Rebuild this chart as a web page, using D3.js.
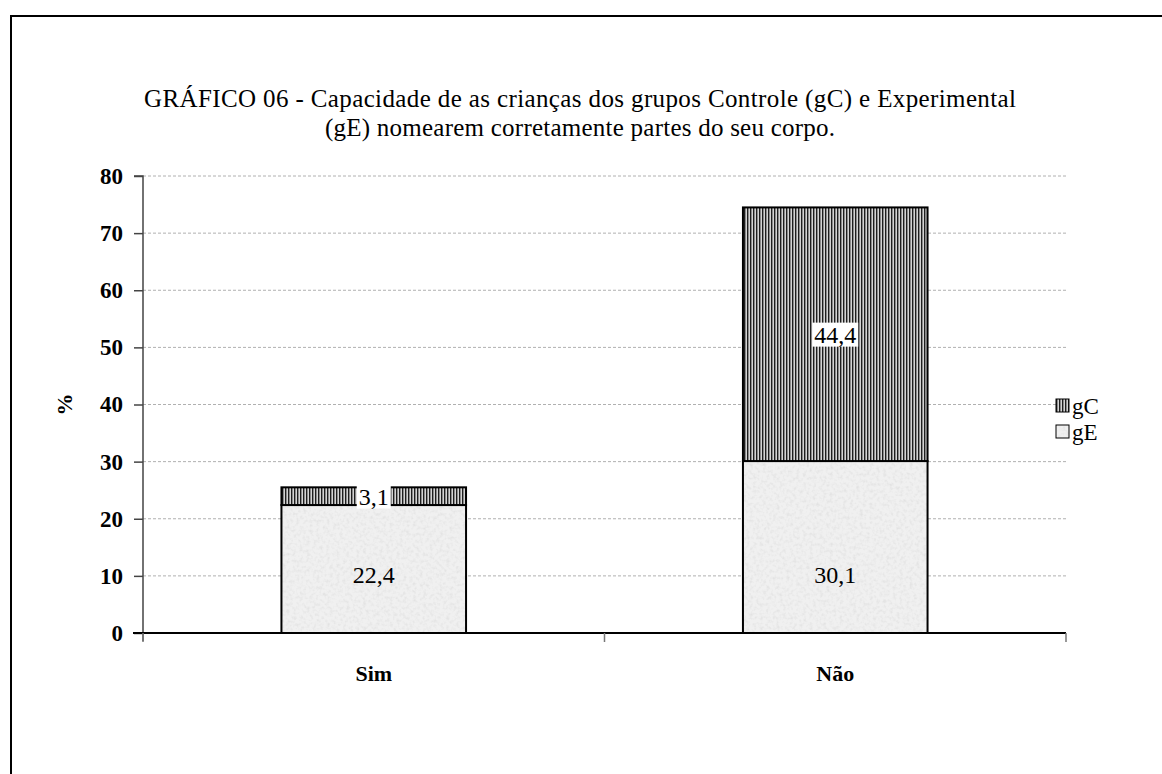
<!DOCTYPE html>
<html>
<head>
<meta charset="utf-8">
<script src="https://cdn.jsdelivr.net/npm/d3@7/dist/d3.min.js"></script>
<style>
  html, body { margin: 0; padding: 0; background: #fff; }
  svg { display: block; }
  svg text { font-family: "Liberation Serif", "DejaVu Serif", serif; }
</style>
</head>
<body>
<svg id="chart" width="1162" height="774"></svg>
<script>
const categories = ["Sim", "Não"];
const seriesNames = ["gE", "gC"];
const gE = [22.4, 30.1];
const gC = [3.1, 44.4];
const yTicks = [0, 10, 20, 30, 40, 50, 60, 70, 80];
const gELabels = ["22,4", "30,1"];
const gCLabels = ["3,1", "44,4"];
const titleLines = [
  "GRÁFICO 06 - Capacidade de as crianças dos grupos Controle (gC) e Experimental",
  "(gE) nomearem corretamente partes do seu corpo."
];
const yLabel = "%";

(function () {
const svg = d3.select("#chart");
const W = 1162, H = 774;
const pLeft = 143, pRight = 1066, pTop = 176, pBottom = 633;
const FF = "Liberation Serif";

svg.append("path")
  .attr("d", `M11,${H + 5} L11,16 L${W + 5},16`)
  .attr("fill", "none").attr("stroke", "#000").attr("stroke-width", 2);

const defs = svg.append("defs");
const pv = defs.append("pattern").attr("id", "vstripe")
  .attr("patternUnits", "userSpaceOnUse").attr("width", 3).attr("height", 3);
pv.append("rect").attr("width", 3).attr("height", 3).attr("fill", "#d4d4d4");
pv.append("rect").attr("width", 1.4).attr("height", 3).attr("fill", "#1e1e1e");

const grainFilter = defs.append("filter").attr("id", "noise")
  .attr("x", 0).attr("y", 0).attr("width", "100%").attr("height", "100%");
grainFilter.append("feTurbulence").attr("type", "fractalNoise")
  .attr("baseFrequency", 0.3).attr("numOctaves", 2).attr("seed", 3).attr("result", "t");
grainFilter.append("feColorMatrix").attr("in", "t").attr("type", "matrix")
  .attr("values", "0 0 0 0 0.6  0 0 0 0 0.6  0 0 0 0 0.6  0 0 0 -0.9 0.5")
  .attr("result", "c");
grainFilter.append("feComposite").attr("in", "c").attr("in2", "SourceGraphic").attr("operator", "in").attr("result", "n");
const fm = grainFilter.append("feMerge");
fm.append("feMergeNode").attr("in", "SourceGraphic");
fm.append("feMergeNode").attr("in", "n");

const x = d3.scaleBand().domain(categories).range([pLeft, pRight])
  .paddingInner(0.6).paddingOuter(0.3);
const y = d3.scaleLinear().domain([0, 80]).range([pBottom, pTop]);

svg.append("g").selectAll("line").data(yTicks.filter(d => d > 0)).join("line")
  .attr("x1", pLeft).attr("x2", pRight)
  .attr("y1", d => y(d)).attr("y2", d => y(d))
  .attr("stroke", "#b0b0b0").attr("stroke-width", 1).attr("stroke-dasharray", "3,2");

const rows = categories.map((c, i) => ({ cat: c, gE: gE[i], gC: gC[i] }));
const stack = d3.stack().keys(seriesNames)(rows);
const fills = { gE: "#f0f0f0", gC: "url(#vstripe)" };

const barG = svg.append("g");
stack.forEach(layer => {
  const g = barG.append("g");
  g.selectAll("rect.fill").data(layer).join("rect").attr("class", "fill")
    .attr("x", d => x(d.data.cat))
    .attr("width", x.bandwidth())
    .attr("y", d => y(d[1]))
    .attr("height", d => y(d[0]) - y(d[1]))
    .attr("fill", fills[layer.key])
    .attr("filter", layer.key === "gE" ? "url(#noise)" : null);
  g.selectAll("rect.edge").data(layer).join("rect").attr("class", "edge")
    .attr("x", d => x(d.data.cat))
    .attr("width", x.bandwidth())
    .attr("y", d => y(d[1]))
    .attr("height", d => y(d[0]) - y(d[1]))
    .attr("fill", "none")
    .attr("stroke", "#000").attr("stroke-width", 2);
});

const yAxis = d3.axisLeft(y).tickValues(yTicks).tickSize(9).tickPadding(11).tickFormat(d3.format("d"));
const ya = svg.append("g").attr("transform", `translate(${pLeft},0)`).call(yAxis);
ya.select(".domain").attr("stroke", "#444").attr("stroke-width", 1.5).attr("d", `M-9,${pTop}H0V${pBottom + 8}`);
ya.selectAll(".tick line").attr("stroke", "#444").attr("stroke-width", 1.5);
ya.selectAll(".tick text").attr("font-size", 23).attr("font-weight", "bold")
  .attr("font-family", FF).attr("fill", "#000");

svg.append("line").attr("x1", pLeft - 10).attr("x2", pRight).attr("y1", pBottom).attr("y2", pBottom)
  .attr("stroke", "#000").attr("stroke-width", 2);
const boundaries = [pLeft, (x("Sim") + x.bandwidth() + x("Não")) / 2, pRight];
svg.append("g").selectAll("line").data(boundaries).join("line")
  .attr("x1", d => d).attr("x2", d => d).attr("y1", pBottom).attr("y2", pBottom + 9)
  .attr("stroke", "#777").attr("stroke-width", 1.5);
svg.append("g").selectAll("text").data(categories).join("text")
  .attr("x", d => x(d) + x.bandwidth() / 2).attr("y", pBottom + 48)
  .attr("text-anchor", "middle").attr("font-size", 22).attr("font-weight", "bold")
  .attr("font-family", FF).text(d => d);

const labG = svg.append("g").attr("font-size", 24).attr("font-family", FF);
const gELabelY = y(d3.min(gE) / 2) + 6;
rows.forEach((r, i) => {
  const cx = x(r.cat) + x.bandwidth() / 2;
  labG.append("text").attr("x", cx).attr("y", gELabelY).attr("dy", "0.35em")
    .attr("text-anchor", "middle").text(gELabels[i]);
  const cy = y(r.gE + r.gC / 2);
  const t = labG.append("text").attr("x", cx).attr("y", cy).attr("dy", "0.35em")
    .attr("text-anchor", "middle").text(gCLabels[i]);
  const bb = t.node().getBBox();
  labG.insert("rect", () => t.node())
    .attr("x", bb.x - 2).attr("y", bb.y + 1).attr("width", bb.width + 4).attr("height", bb.height - 2)
    .attr("fill", "#fff");
});

svg.append("text").attr("transform", `translate(72,${(pTop + pBottom) / 2}) rotate(-90)`)
  .attr("text-anchor", "middle").attr("font-size", 22).attr("font-weight", "bold")
  .attr("font-family", FF).text(yLabel);

const titleW = [872, 510];
svg.append("g").selectAll("text").data(titleLines).join("text")
  .attr("x", 580).attr("y", (d, i) => 107 + i * 29)
  .attr("text-anchor", "middle").attr("font-size", 25).attr("font-family", FF)
  .attr("textLength", (d, i) => titleW[i]).attr("lengthAdjust", "spacing")
  .text(d => d);

const leg = svg.append("g").attr("transform", "translate(1056,399)");
["gC", "gE"].forEach((k, i) => {
  const g = leg.append("g").attr("transform", `translate(0,${i * 26})`);
  g.append("rect").attr("x", 0).attr("y", 0).attr("width", 13).attr("height", 13)
    .attr("fill", fills[k]).attr("filter", k === "gE" ? "url(#noise)" : null);
  g.append("rect").attr("x", 0).attr("y", 0).attr("width", 13).attr("height", 13)
    .attr("fill", "none").attr("stroke", "#000").attr("stroke-width", 1);
  g.append("text").attr("x", 16).attr("y", 7).attr("dy", "0.35em").attr("font-size", 23)
    .attr("font-family", FF).text(k);
});
})();
</script>
</body>
</html>
